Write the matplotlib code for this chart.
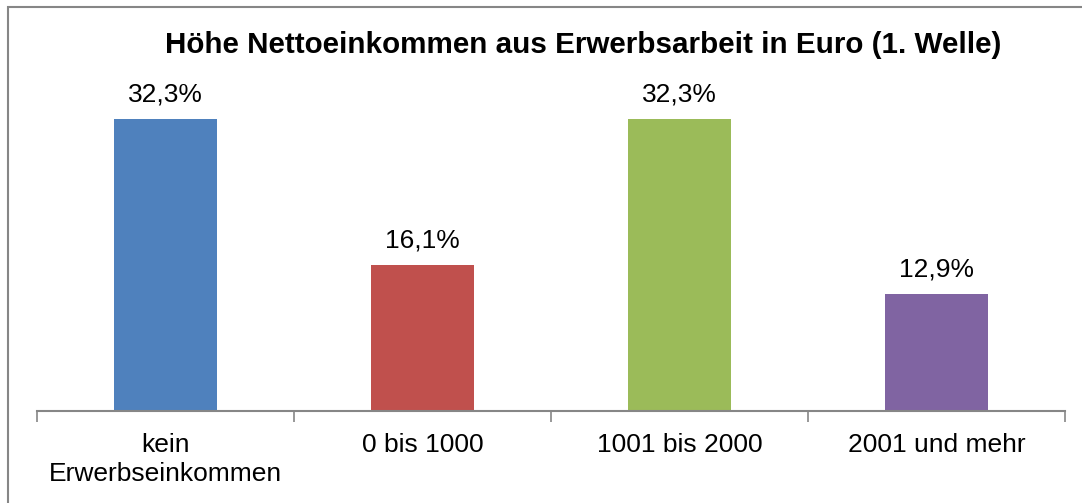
import matplotlib.pyplot as plt
from matplotlib.patches import Rectangle

categories = ['kein\nErwerbseinkommen', '0 bis 1000', '1001 bis 2000', '2001 und mehr']
values = [32.3, 16.1, 32.3, 12.9]
value_labels = ['32,3%', '16,1%', '32,3%', '12,9%']
colors = ['#4F81BD', '#C0504D', '#9BBB59', '#8064A2']

plt.rcParams['font.family'] = ['Liberation Sans', 'DejaVu Sans']

fig = plt.figure(figsize=(10.82, 5.03), dpi=100)
ax = fig.add_axes([37 / 1082, 92 / 503, 1028 / 1082, 361.6 / 503])

x = range(len(categories))
ax.bar(x, values, width=0.4, color=colors)
for xi, v, lab in zip(x, values, value_labels):
    ax.annotate(lab, (xi, v), xytext=(0, 9), textcoords='offset points',
                ha='center', va='bottom', fontsize=19)

ax.set_xlim(-0.5, len(categories) - 0.5)
ax.set_ylim(0, 40)
ax.set_xticks([i - 0.5 for i in range(len(categories) + 1)])
ax.set_xticklabels([])
ax.set_xticks(list(x), minor=True)
ax.set_xticklabels(categories, minor=True, fontsize=19, linespacing=1.3)
ax.tick_params(axis='x', which='major', length=8, width=1.2, color='#868686', direction='out')
ax.tick_params(axis='x', which='minor', length=0, pad=15.5)
ax.set_yticks([])
for s in ['top', 'right', 'left']:
    ax.spines[s].set_visible(False)
ax.spines['bottom'].set_color('#868686')
ax.spines['bottom'].set_linewidth(1.5)

fig.text(583 / 1082, 1 - 45 / 503, 'Höhe Nettoeinkommen aus Erwerbsarbeit in Euro (1. Welle)',
         ha='center', va='center', fontsize=21.3, fontweight='bold')

# outer frame (only top and left visible in the crop)
fig.add_artist(Rectangle((8 / 1082, -0.1), 1.2, 1.1 - 7 / 503, transform=fig.transFigure,
                         fill=False, edgecolor='#868686', linewidth=1.5))

fig.savefig('out.png', dpi=100)
